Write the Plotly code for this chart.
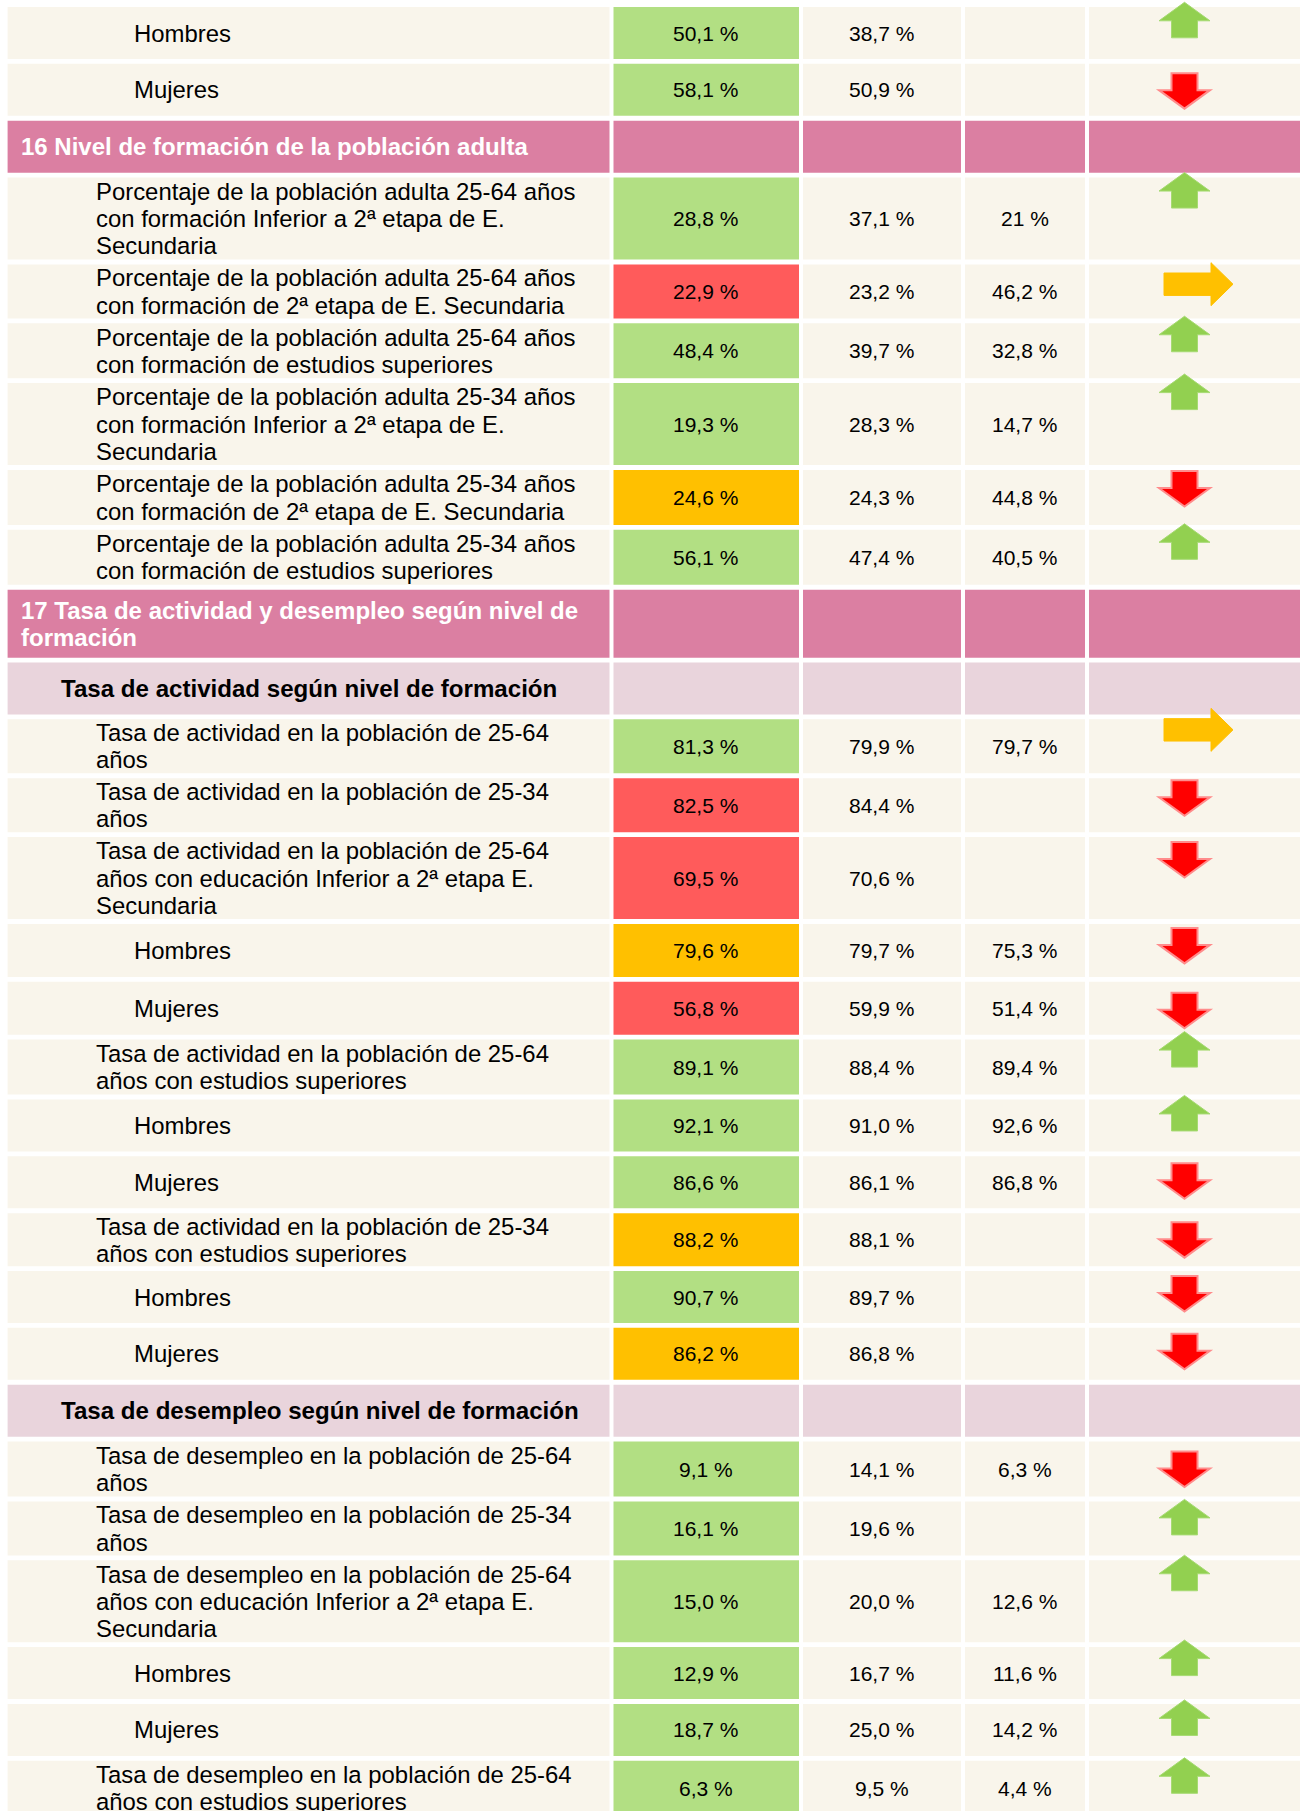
import plotly.graph_objects as go

# ---------------- data ----------------
row_kind = ["sex", "sex", "header", "item", "item", "item", "item", "item", "item",
            "header", "sub", "item", "item", "item", "sex", "sex", "item", "sex", "sex",
            "item", "sex", "sex", "sub", "item", "item", "item", "sex", "sex", "item"]

labels = [
    "Hombres",
    "Mujeres",
    "16 Nivel de formación de la población adulta",
    "Porcentaje de la población adulta 25-64 años<br>con formación Inferior a 2ª etapa de E.<br>Secundaria",
    "Porcentaje de la población adulta 25-64 años<br>con formación de 2ª etapa de E. Secundaria",
    "Porcentaje de la población adulta 25-64 años<br>con formación de estudios superiores",
    "Porcentaje de la población adulta 25-34 años<br>con formación Inferior a 2ª etapa de E.<br>Secundaria",
    "Porcentaje de la población adulta 25-34 años<br>con formación de 2ª etapa de E. Secundaria",
    "Porcentaje de la población adulta 25-34 años<br>con formación de estudios superiores",
    "17 Tasa de actividad y desempleo según nivel de<br>formación",
    "Tasa de actividad según nivel de formación",
    "Tasa de actividad en la población de 25-64<br>años",
    "Tasa de actividad en la población de 25-34<br>años",
    "Tasa de actividad en la población de 25-64<br>años con educación Inferior a 2ª etapa E.<br>Secundaria",
    "Hombres",
    "Mujeres",
    "Tasa de actividad en la población de 25-64<br>años con estudios superiores",
    "Hombres",
    "Mujeres",
    "Tasa de actividad en la población de 25-34<br>años con estudios superiores",
    "Hombres",
    "Mujeres",
    "Tasa de desempleo según nivel de formación",
    "Tasa de desempleo en la población de 25-64<br>años",
    "Tasa de desempleo en la población de 25-34<br>años",
    "Tasa de desempleo en la población de 25-64<br>años con educación Inferior a 2ª etapa E.<br>Secundaria",
    "Hombres",
    "Mujeres",
    "Tasa de desempleo en la población de 25-64<br>años con estudios superiores",
]

value_current = ["50,1 %", "58,1 %", "", "28,8 %", "22,9 %", "48,4 %", "19,3 %", "24,6 %", "56,1 %",
                 "", "", "81,3 %", "82,5 %", "69,5 %", "79,6 %", "56,8 %", "89,1 %", "92,1 %", "86,6 %",
                 "88,2 %", "90,7 %", "86,2 %", "", "9,1 %", "16,1 %", "15,0 %", "12,9 %", "18,7 %", "6,3 %"]

value_ref1 = ["38,7 %", "50,9 %", "", "37,1 %", "23,2 %", "39,7 %", "28,3 %", "24,3 %", "47,4 %",
              "", "", "79,9 %", "84,4 %", "70,6 %", "79,7 %", "59,9 %", "88,4 %", "91,0 %", "86,1 %",
              "88,1 %", "89,7 %", "86,8 %", "", "14,1 %", "19,6 %", "20,0 %", "16,7 %", "25,0 %", "9,5 %"]

value_ref2 = ["", "", "", "21 %", "46,2 %", "32,8 %", "14,7 %", "44,8 %", "40,5 %",
              "", "", "79,7 %", "", "", "75,3 %", "51,4 %", "89,4 %", "92,6 %", "86,8 %",
              "", "", "", "", "6,3 %", "", "12,6 %", "11,6 %", "14,2 %", "4,4 %"]

status = ["good", "good", "", "good", "bad", "good", "good", "warn", "good",
          "", "", "good", "bad", "bad", "warn", "bad", "good", "good", "good",
          "warn", "good", "warn", "", "good", "good", "good", "good", "good", "good"]

trend = ["up", "down", "", "up", "right", "up", "up", "down", "up",
         "", "", "right", "down", "down", "down", "down", "up", "up", "down",
         "down", "down", "down", "", "down", "up", "up", "up", "up", "up"]

# ---------------- layout / style ----------------
W, H = 1305, 1811
row_heights = [52, 52, 52, 82, 54, 55, 82, 55, 55, 68, 52, 54, 54, 82, 53, 53, 55, 52, 52,
               53, 52, 52, 52, 55, 54, 82, 52, 52, 55]
arrow_offset = [-4.7, 9.3, 0, -5, -1.7, -7, -9, 1, -6, 0, 0, -11, 2, 5, 4, 11, -8, -4, 7,
                9, 5, 6, 0, 10, -2, -5, -7, -4, -3]
row_gap = 4.85
top_start = 7
col_edges = [(7.6, 609.5), (613.5, 799), (803, 961), (965, 1085), (1089, 1300)]

CREAM = "#F9F5EB"
PINK = "#DB7FA2"
LIGHT_PINK = "#E9D4DC"
status_fill = {"good": "#B2DF83", "bad": "#FF5B5B", "warn": "#FFC000", "": CREAM}
FONT = "Liberation Sans, Arial, sans-serif"
LINE_SP = 27.2

shapes = []
annotations = []

y = top_start
for i, kind in enumerate(row_kind):
    h = row_heights[i]
    y0, y1 = y, y + h
    yc = (y0 + y1) / 2
    for c, (x0, x1) in enumerate(col_edges):
        if kind == "header":
            fill = PINK
        elif kind == "sub":
            fill = LIGHT_PINK
        elif c == 1:
            fill = status_fill[status[i]]
        else:
            fill = CREAM
        shapes.append(dict(type="rect", xref="x", yref="y", x0=x0, x1=x1, y0=y0, y1=y1,
                           fillcolor=fill, line=dict(width=0), layer="below"))

    # label
    lines = labels[i].split("<br>")
    if kind == "header":
        lx, fsize, color, txt_fmt = 18.5, 24, "white", "<b>{}</b>"
    elif kind == "sub":
        lx, fsize, color, txt_fmt = 58.5, 24.1, "black", "<b>{}</b>"
    elif kind == "sex":
        lx, fsize, color, txt_fmt = 131.5, 23.9, "black", "{}"
    else:
        lx, fsize, color, txt_fmt = 93.5, 23.9, "black", "{}"
    n = len(lines)
    for k, ln in enumerate(lines):
        ly = yc + (k - (n - 1) / 2) * LINE_SP
        annotations.append(dict(x=lx, y=ly, xref="x", yref="y", text=txt_fmt.format(ln),
                                showarrow=False, xanchor="left", yanchor="middle",
                                font=dict(family=FONT, size=fsize, color=color)))

    # values
    for c, vals in zip((1, 2, 3), (value_current, value_ref1, value_ref2)):
        if vals[i]:
            x0, x1 = col_edges[c]
            annotations.append(dict(x=(x0 + x1) / 2 - 0.5, y=yc, xref="x", yref="y", text=vals[i],
                                    showarrow=False, xanchor="center", yanchor="middle",
                                    font=dict(family=FONT, size=21, color="black")))

    # trend arrows
    t = trend[i]
    ax0 = col_edges[4][0]
    at = y0 + arrow_offset[i]
    if t in ("up", "down"):
        cx = ax0 + 95.5
        hw, sw, hh, tot = 25.5, 13, 18.5, 35.5
        if t == "up":
            pts = [(cx, at), (cx + hw, at + hh), (cx + sw, at + hh), (cx + sw, at + tot),
                   (cx - sw, at + tot), (cx - sw, at + hh), (cx - hw, at + hh)]
            fc, lc, lw = "#92D050", "#A6DA72", 1
        else:
            pts = [(cx - sw, at), (cx + sw, at), (cx + sw, at + tot - hh), (cx + hw, at + tot - hh),
                   (cx, at + tot), (cx - hw, at + tot - hh), (cx - sw, at + tot - hh)]
            fc, lc, lw = "#FF0000", "#FF8C8C", 2
    elif t == "right":
        xs = ax0 + 75
        xh = xs + 47
        xt = xs + 69
        cy = at + 21.5
        pts = [(xs, cy - 11.2), (xh, cy - 11.2), (xh, at), (xt, cy), (xh, at + 43),
               (xh, cy + 11.2), (xs, cy + 11.2)]
        fc, lc, lw = "#FFC000", "#FFC000", 1
    else:
        pts = None
    if pts:
        path = "M " + " L ".join(f"{px:.2f},{py:.2f}" for px, py in pts) + " Z"
        shapes.append(dict(type="path", xref="x", yref="y", path=path, fillcolor=fc,
                           line=dict(color=lc, width=lw), layer="above"))

    y = y1 + row_gap

fig = go.Figure()
fig.add_trace(go.Scatter(x=[0, W], y=[0, H], mode="markers", marker=dict(opacity=0),
                         hoverinfo="skip", showlegend=False))
fig.update_layout(
    width=W, height=H,
    margin=dict(l=0, r=0, t=0, b=0),
    paper_bgcolor="white", plot_bgcolor="white",
    xaxis=dict(range=[0, W], visible=False, fixedrange=True),
    yaxis=dict(range=[H, 0], visible=False, fixedrange=True),
    shapes=shapes, annotations=annotations, showlegend=False,
)
fig.write_html("out.html", config={"displayModeBar": False},
               post_script="document.body.style.margin='0';document.body.style.overflow='hidden';")
